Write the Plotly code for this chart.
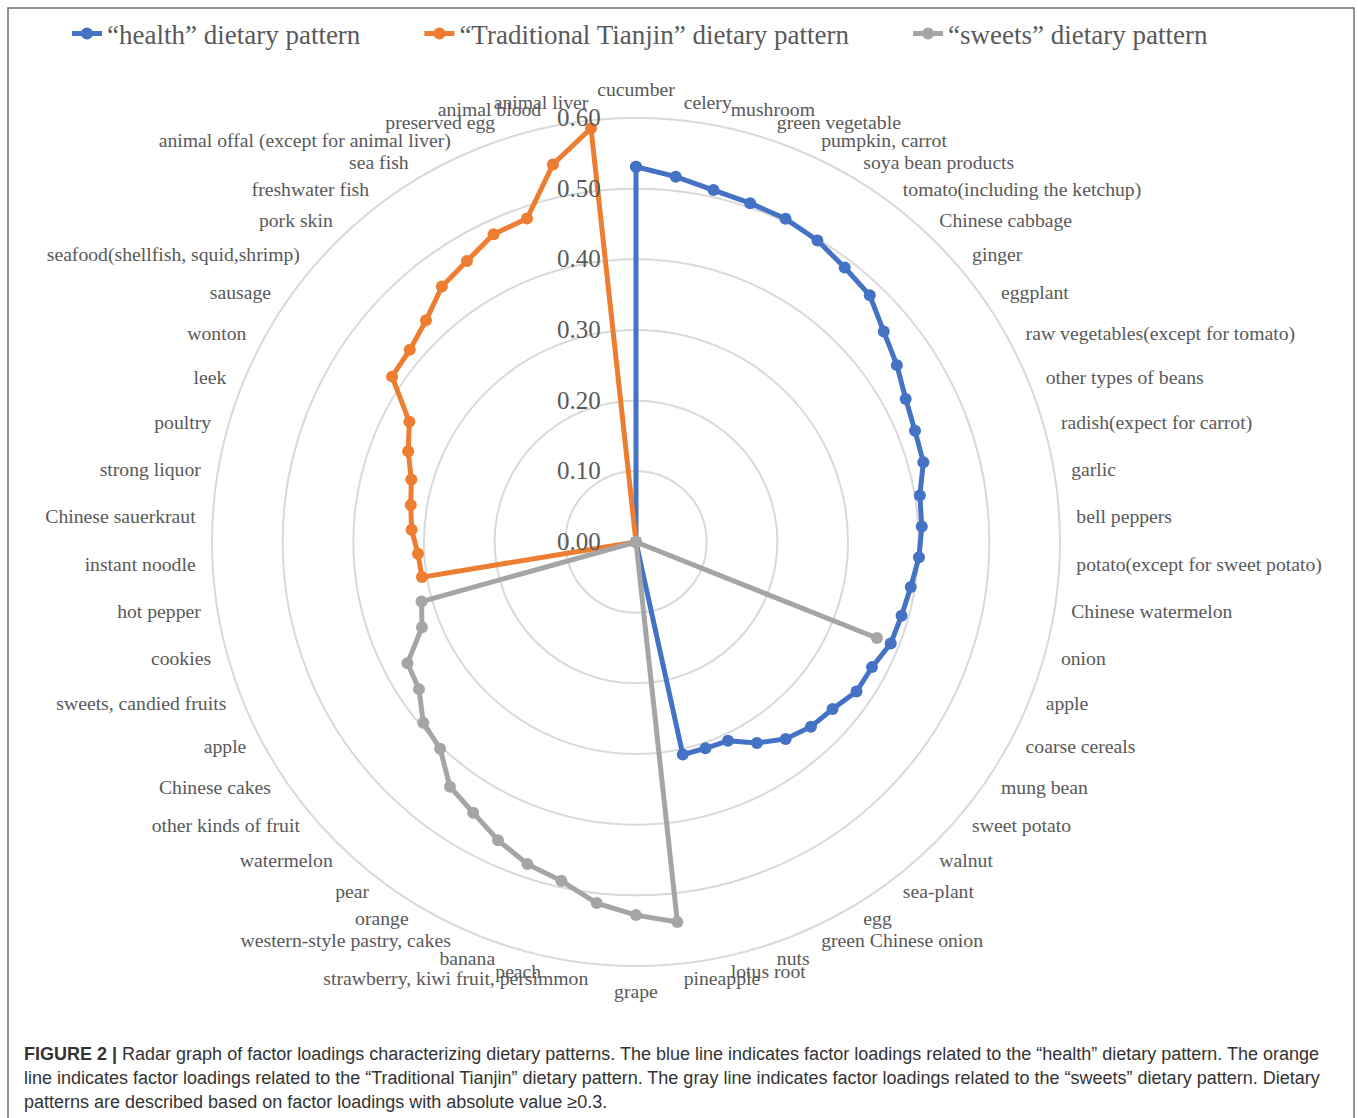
import plotly.graph_objects as go

categories = [
    "cucumber", "celery", "mushroom", "green vegetable", "pumpkin, carrot",
    "soya bean products", "tomato(including the ketchup)", "Chinese cabbage",
    "ginger", "eggplant", "raw vegetables(except for tomato)", "other types of beans",
    "radish(expect for carrot)", "garlic", "bell peppers", "potato(except for sweet potato)",
    "Chinese watermelon", "onion", "apple", "coarse cereals", "mung bean", "sweet potato",
    "walnut", "sea-plant", "egg", "green Chinese onion", "nuts", "lotus root", "pineapple",
    "grape", "strawberry, kiwi fruit, persimmon", "peach", "banana",
    "western-style pastry, cakes", "orange", "pear", "watermelon", "other kinds of fruit",
    "Chinese cakes", "apple", "sweets, candied fruits", "cookies", "hot pepper",
    "instant noodle", "Chinese sauerkraut", "strong liquor", "poultry", "leek", "wonton",
    "sausage", "seafood(shellfish, squid,shrimp)", "pork skin", "freshwater fish",
    "sea fish", "animal offal (except for animal liver)", "preserved egg",
    "animal blood", "animal liver",
]

health = [
    0.531, 0.520, 0.510, 0.506, 0.504, 0.498, 0.488, 0.481, 0.460, 0.446,
    0.432, 0.425, 0.422, 0.407, 0.405, 0.401, 0.394, 0.390, 0.388, 0.378,
    0.377, 0.365, 0.360, 0.350, 0.332, 0.310, 0.308, 0.308, 0, 0,
    0, 0, 0, 0, 0, 0, 0, 0, 0, 0,
    0, 0, 0, 0, 0, 0, 0, 0, 0, 0,
    0, 0, 0, 0, 0, 0, 0, 0,
]

tianjin = [
    0, 0, 0, 0, 0, 0, 0, 0, 0, 0,
    0, 0, 0, 0, 0, 0, 0, 0, 0, 0,
    0, 0, 0, 0, 0, 0, 0, 0, 0, 0,
    0, 0, 0, 0, 0, 0, 0, 0, 0, 0,
    0, 0, 0.307, 0.309, 0.318, 0.323, 0.330, 0.347, 0.363, 0.417,
    0.420, 0.432, 0.454, 0.464, 0.480, 0.483, 0.547, 0.589,
]

sweets = [
    0, 0, 0, 0, 0, 0, 0, 0, 0, 0,
    0, 0, 0, 0, 0, 0, 0, 0, 0.367, 0,
    0, 0, 0, 0, 0, 0, 0, 0, 0.541, 0.528,
    0.514, 0.491, 0.481, 0.465, 0.447, 0.435, 0.403, 0.395, 0.371, 0.366,
    0.326, 0.315, 0, 0, 0, 0, 0, 0, 0, 0,
    0, 0, 0, 0, 0, 0, 0, 0,
]

series_names = ["“health” dietary pattern", "“Traditional Tianjin” dietary pattern",
                "“sweets” dietary pattern"]
series_colors = ["#4472C4", "#ED7D31", "#A5A5A5"]
radial_ticks = [0.0, 0.1, 0.2, 0.3, 0.4, 0.5, 0.6]
r_max = 0.6

n = len(categories)
angles = [i * 360.0 / n for i in range(n)]

SERIF = "Liberation Serif, Times New Roman, serif"
TXT = "#595959"
PAD = "\u00a0" * 8  # spacing between legend entries

W, H = 1358, 1118
cx, cy, R = 636, 542, 424           # centre and pixel radius of the 0.60 ring
label_r = r_max * (R + 17) / R      # category labels sit just outside the outer ring
r_top = label_r * 1.002             # axis range reaches the label ring
Rt = R * r_top / r_max

fig = go.Figure()
for k, (name, vals, col) in enumerate(zip(series_names, [health, tianjin, sweets], series_colors)):
    fig.add_trace(go.Scatterpolar(
        r=vals + [vals[0]],
        theta=angles + [angles[0]],
        thetaunit="degrees",
        mode="lines+markers",
        name=name + (PAD if k < 2 else ""),
        line=dict(color=col, width=5),
        marker=dict(color=col, size=12),
    ))

# category labels (Excel-style placement: left/right aligned, vertically centred)
positions = []
for i in range(n):
    if i == 0:
        positions.append("top center")
    elif i * 2 == n:
        positions.append("bottom center")
    elif i * 2 < n:
        positions.append("middle right")
    else:
        positions.append("middle left")

fig.add_trace(go.Scatterpolar(
    r=[label_r] * n, theta=angles, thetaunit="degrees",
    mode="text", text=categories, textposition=positions,
    textfont=dict(family=SERIF, size=19.7, color=TXT),
    cliponaxis=False, showlegend=False, hoverinfo="skip",
))

fig.update_layout(
    width=W, height=H,
    margin=dict(l=0, r=0, t=0, b=0),
    paper_bgcolor="white",
    plot_bgcolor="white",
    font=dict(family=SERIF, color=TXT),
    polar=dict(
        domain=dict(x=[(cx - Rt) / W, (cx + Rt) / W],
                    y=[(H - (cy + Rt)) / H, (H - (cy - Rt)) / H]),
        bgcolor="white",
        radialaxis=dict(
            range=[0, r_top], tickvals=radial_ticks, tickformat=".2f",
            angle=90, side="counterclockwise", tickangle=90,
            showline=False, ticks="outside", ticklen=26, tickcolor="rgba(0,0,0,0)",
            gridcolor="#D9D9D9", gridwidth=1.5,
            tickfont=dict(family=SERIF, size=25, color=TXT),
        ),
        angularaxis=dict(
            direction="clockwise", rotation=90, thetaunit="degrees",
            tickmode="array", tickvals=angles, ticktext=categories,
            showticklabels=False,
            showgrid=False, ticks="",
            showline=False,
        ),
    ),
    legend=dict(
        orientation="h", x=640 / W, xanchor="center", y=1 - 34 / H, yanchor="middle",
        font=dict(family=SERIF, size=27, color=TXT),
        bgcolor="rgba(0,0,0,0)",
    ),
)

caption_lines = [
    "<b>FIGURE 2 |</b> Radar graph of factor loadings characterizing dietary patterns. The blue line indicates factor loadings related to the “health” dietary pattern. The orange",
    "line indicates factor loadings related to the “Traditional Tianjin” dietary pattern. The gray line indicates factor loadings related to the “sweets” dietary pattern. Dietary",
    "patterns are described based on factor loadings with absolute value ≥0.3.",
]
for k, line in enumerate(caption_lines):
    fig.add_annotation(
        x=22 / W, y=(H - (1054 + 24 * k)) / H, xref="paper", yref="paper",
        xanchor="left", yanchor="middle", showarrow=False, align="left",
        text=line, font=dict(family="Liberation Sans, Arial, sans-serif", size=18, color="#333333"),
    )

fig.add_shape(type="rect", xref="paper", yref="paper",
              x0=8 / W, x1=1354 / W, y0=-0.05, y1=(H - 8) / H,
              line=dict(color="#6E6E6E", width=1.5), fillcolor="rgba(0,0,0,0)", layer="below")

fig.write_html("out.html")
